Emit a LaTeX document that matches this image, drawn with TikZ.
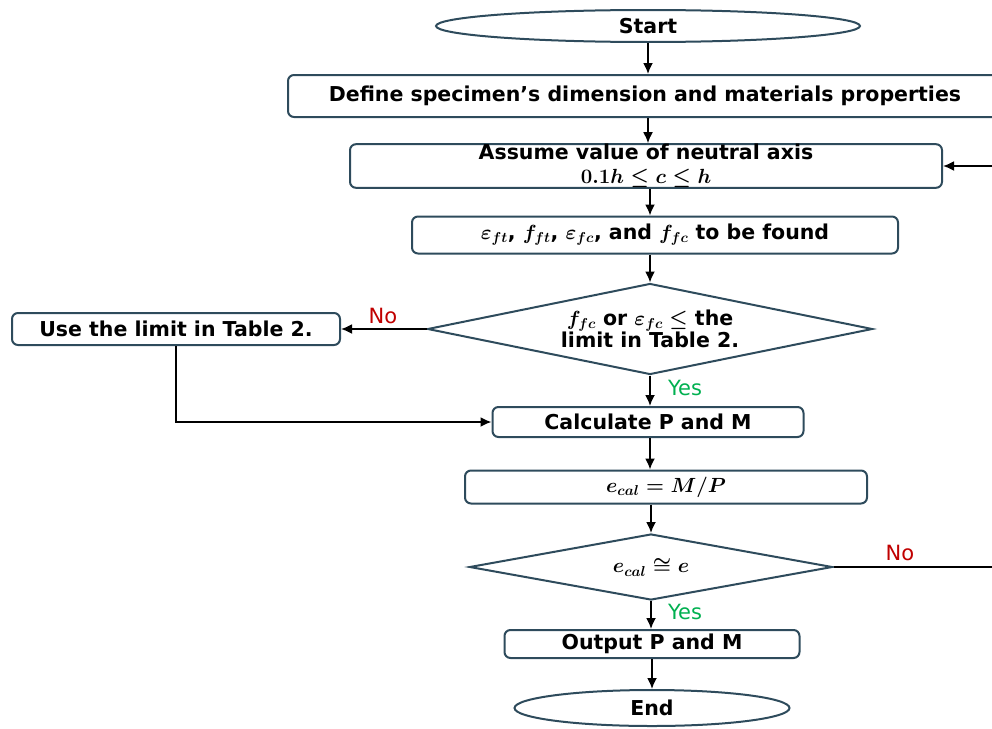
\RequirePackage{fix-cm}
\documentclass[tikz,border=0pt]{standalone}
\usepackage{amsmath,amssymb}
\usepackage{fontspec}
\setmainfont{DejaVu Sans}
\usepackage{xcolor}
\usepackage{tikz}
\usetikzlibrary{shapes,arrows,arrows.meta,positioning}
\definecolor{boxline}{HTML}{2E4B5C}
\definecolor{nored}{HTML}{C00000}
\definecolor{yesgreen}{HTML}{00B050}

\begin{document}
\begin{tikzpicture}[x=1pt,y=-1pt,
    every node/.style={font=\fontsize{20.5}{21}\selectfont\bfseries\boldmath},
    term/.style={draw=boxline,line width=2pt,ellipse,inner sep=0pt},
    procbox/.style={draw=boxline,line width=2pt,rounded corners=6pt,inner sep=0pt,align=center},
    decide/.style={draw=boxline,line width=2pt,diamond,inner sep=0pt,align=center},
    flow/.style={-{Latex[length=11pt,width=10pt]},line width=1.8pt},
    answer/.style={font=\fontsize{21}{22}\selectfont}]
    \clip (0,0) rectangle (992,728);

    % Start and setup
    \node[term, minimum width=424pt, minimum height=32pt] (start) at (648,26) {Start};
    \node[procbox, minimum width=714pt, minimum height=42pt] (define) at (645,96)
        {Define specimen's dimension and materials properties};
    \node[procbox, minimum width=592pt, minimum height=43pt] (assume) at (646,166)
        {Assume value of neutral axis\\[3pt] $0.1h \le c \le h$};
    \node[procbox, minimum width=486pt, minimum height=37pt] (strains) at (655,235)
        {$\varepsilon_{ft}$, $f_{ft}$, $\varepsilon_{fc}$, and $f_{fc}$ to be found};

    % Check against the limit
    \node[decide, aspect=4.9, minimum width=445pt, minimum height=91pt] (limitchk) at (650,329)
        {$f_{fc}$ or $\varepsilon_{fc} \le$ the\\ limit in Table 2.};
    \node[procbox, minimum width=328pt, minimum height=32pt] (uselimit) at (176,329)
        {Use the limit in Table 2.};
    \node[procbox, minimum width=311pt, minimum height=30pt] (calc) at (648,422)
        {Calculate P and M};
    \node[procbox, minimum width=402pt, minimum height=33pt] (ecal) at (666,487)
        {$e_{cal} = M/P$};

    % Convergence check
    \node[decide, aspect=5.5, minimum width=363pt, minimum height=66pt] (conv) at (651,567)
        {$e_{cal} \cong e$};
    \node[procbox, minimum width=295pt, minimum height=28pt] (output) at (652,644)
        {Output P and M};
    \node[term, minimum width=275pt, minimum height=36pt] (end) at (652,708) {End};
    \coordinate (loopback) at (1002,567);

    % Arrows
    \draw[flow] (start.south) -- (start.south |- define.north);
    \draw[flow] (define.south -| start) -- (start |- assume.north);
    \draw[flow] (assume.south -| limitchk) -- (strains.north -| limitchk);
    \draw[flow] (strains.south -| limitchk) -- (limitchk.north);
    \draw[flow] (limitchk.south) -- (calc.north -| limitchk);
    \draw[flow] (calc.south -| limitchk) -- (ecal.north -| limitchk);
    \draw[flow] (ecal.south -| conv) -- (conv.north);
    \draw[flow] (conv.south) -- (output.north -| conv);
    \draw[flow] (output.south) -- (end.north);
    \draw[flow] (limitchk.west) -- (uselimit.east);
    \draw[flow] (uselimit.south) |- (calc.west);
    \draw[flow] (conv.east) -- (loopback) |- (assume.east);

    % Labels
    \node[answer, text=nored] (no1) at (383,316) {No};
    \node[answer, text=yesgreen] (yes1) at (685,388) {Yes};
    \node[answer, text=nored] (no2) at (900,553) {No};
    \node[answer, text=yesgreen] (yes2) at (685,612) {Yes};
\end{tikzpicture}
\end{document}
